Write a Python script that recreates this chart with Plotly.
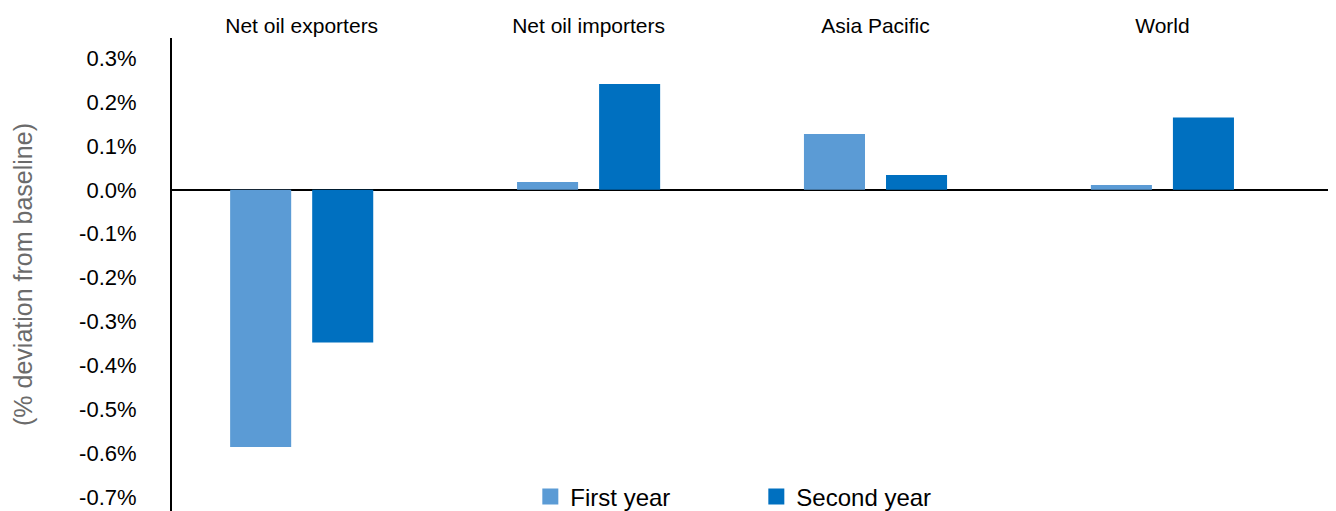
import plotly.graph_objects as go

# Data (% deviation from baseline)
regions = ["Net oil exporters", "Net oil importers", "Asia Pacific", "World"]
first_year = [-0.586, 0.018, 0.127, 0.011]
second_year = [-0.348, 0.241, 0.034, 0.165]

tick_vals = [0.3, 0.2, 0.1, 0.0, -0.1, -0.2, -0.3, -0.4, -0.5, -0.6, -0.7]
tick_text = ["0.3%", "0.2%", "0.1%", "0.0%", "-0.1%", "-0.2%", "-0.3%",
             "-0.4%", "-0.5%", "-0.6%", "-0.7%"]

c_first = "#5B9BD5"
c_second = "#0070C0"
font = "Liberation Sans, Arial, sans-serif"

fig = go.Figure()

fig.add_trace(go.Bar(x=regions, y=first_year, name="First year",
                     marker=dict(color=c_first, line=dict(width=0)),
                     showlegend=False))
fig.add_trace(go.Bar(x=regions, y=second_year, name="Second year",
                     marker=dict(color=c_second, line=dict(width=0)),
                     showlegend=False))

# legend entries with big square swatches
for nm, col in [("First year", c_first), ("Second year", c_second)]:
    fig.add_trace(go.Scatter(x=[None], y=[None], mode="markers", name=nm,
                             marker=dict(symbol="square", size=16, color=col)))

# page body has an 8px margin, so the figure is a bit smaller than the window
fig.update_layout(
    width=1328, height=503,
    margin=dict(l=164, r=0, t=30, b=0, autoexpand=False),
    paper_bgcolor="white", plot_bgcolor="white",
    font=dict(family=font, size=21, color="black"),
    barmode="group",
    bargap=0.428,
    bargroupgap=0.256,
    legend=dict(orientation="h", x=0.502, xanchor="center",
                y=0.03, yanchor="middle",
                font=dict(size=24, color="black"),
                entrywidth=181, entrywidthmode="pixels",
                bgcolor="rgba(0,0,0,0)"),
)

fig.update_xaxes(
    side="top", range=[-0.452, 3.605], automargin=False,
    showline=False, showgrid=False, zeroline=False, ticks="",
    tickfont=dict(size=21, color="black"),
)

fig.update_yaxes(
    range=[-0.732, 0.346], automargin=False,
    tickvals=tick_vals, ticktext=tick_text,
    showgrid=False,
    showline=True, linecolor="black", linewidth=2,
    zeroline=True, zerolinecolor="black", zerolinewidth=2,
    ticks="", ticklabelstandoff=29,
    tickfont=dict(size=22, color="black"),
    title=dict(text="(% deviation from baseline)", standoff=39,
               font=dict(size=25, color="#6b6b6b")),
)

fig.write_html("out.html")
